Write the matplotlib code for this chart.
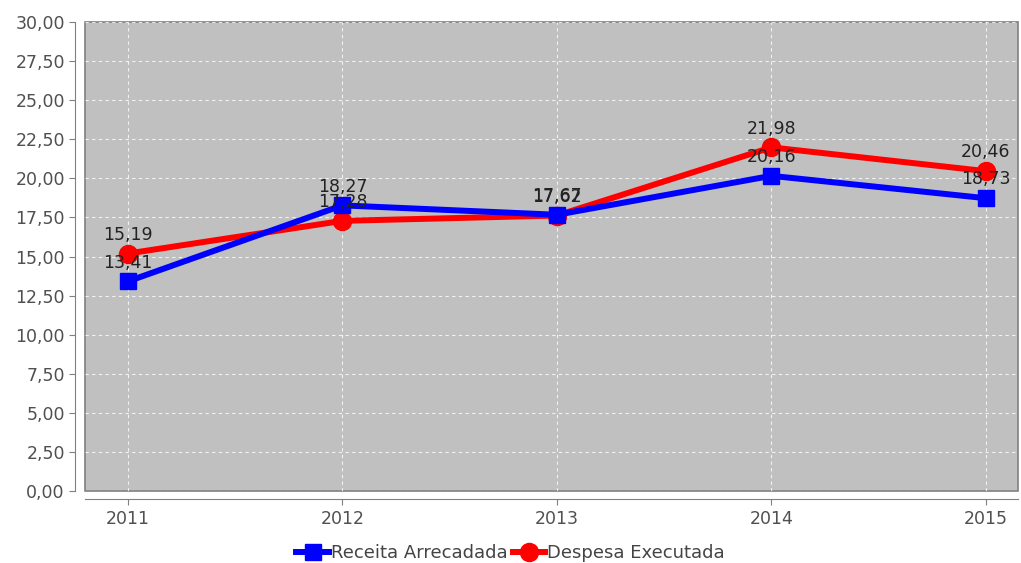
import matplotlib.pyplot as plt
import numpy as np

anos = ["2011", "2012", "2013", "2014", "2015"]
receita = [13.41, 18.27, 17.67, 20.16, 18.73]
despesa = [15.19, 17.28, 17.62, 21.98, 20.46]

fig = plt.figure(figsize=(10.21, 5.63), dpi=100)
ax = fig.add_axes([85 / 1021, 1 - 491 / 563, (1018 - 85) / 1021, (491 - 22) / 563])
ax.set_facecolor("#c0c0c0")
ax.patch.set_edgecolor("#808080")
ax.patch.set_linewidth(1.2)

x = np.arange(len(anos))
ax.plot(x, despesa, color="#ff0000", lw=4.3, marker="o", ms=13, label="Despesa Executada", zorder=3)
ax.plot(x, receita, color="#0000ff", lw=4.3, marker="s", ms=12, label="Receita Arrecadada", zorder=4)

# rotulos de valor acima dos pontos
for serie in (receita, despesa):
    for xi, v in zip(x, serie):
        ax.annotate(f"{v:.2f}".replace(".", ","), (xi, v), xytext=(0, 7), textcoords="offset points",
                    ha="center", va="bottom", fontsize=12.5, color="#222222", zorder=5)

ax.set_xlim(-0.2, 4.15)
ax.set_ylim(0, 30)
ticks = np.arange(0, 30.01, 2.5)
ax.set_yticks(ticks)
ax.set_yticklabels([f"{t:.2f}".replace(".", ",") for t in ticks])
ax.set_xticks(x)
ax.set_xticklabels(anos)
ax.grid(True, color="white", linestyle=(0, (3, 3)), linewidth=0.8, alpha=0.8)
ax.set_axisbelow(True)

for s in ["top", "right"]:
    ax.spines[s].set_visible(False)
ax.spines["left"].set_position(("outward", 7))
ax.spines["bottom"].set_position(("outward", 6))
ax.spines["left"].set_color("#808080")
ax.spines["bottom"].set_color("#808080")
ax.tick_params(colors="#808080", labelcolor="#505050", labelsize=12.5, length=4)

h, l = ax.get_legend_handles_labels()
fig.legend(h[::-1], l[::-1], loc="center", bbox_to_anchor=(0.5, 1 - 553 / 563), ncol=2,
           frameon=False, fontsize=13, handlelength=1.8, handletextpad=0.1, columnspacing=0.3,
           labelcolor="#444444")

fig.savefig("out.png", dpi=100)
